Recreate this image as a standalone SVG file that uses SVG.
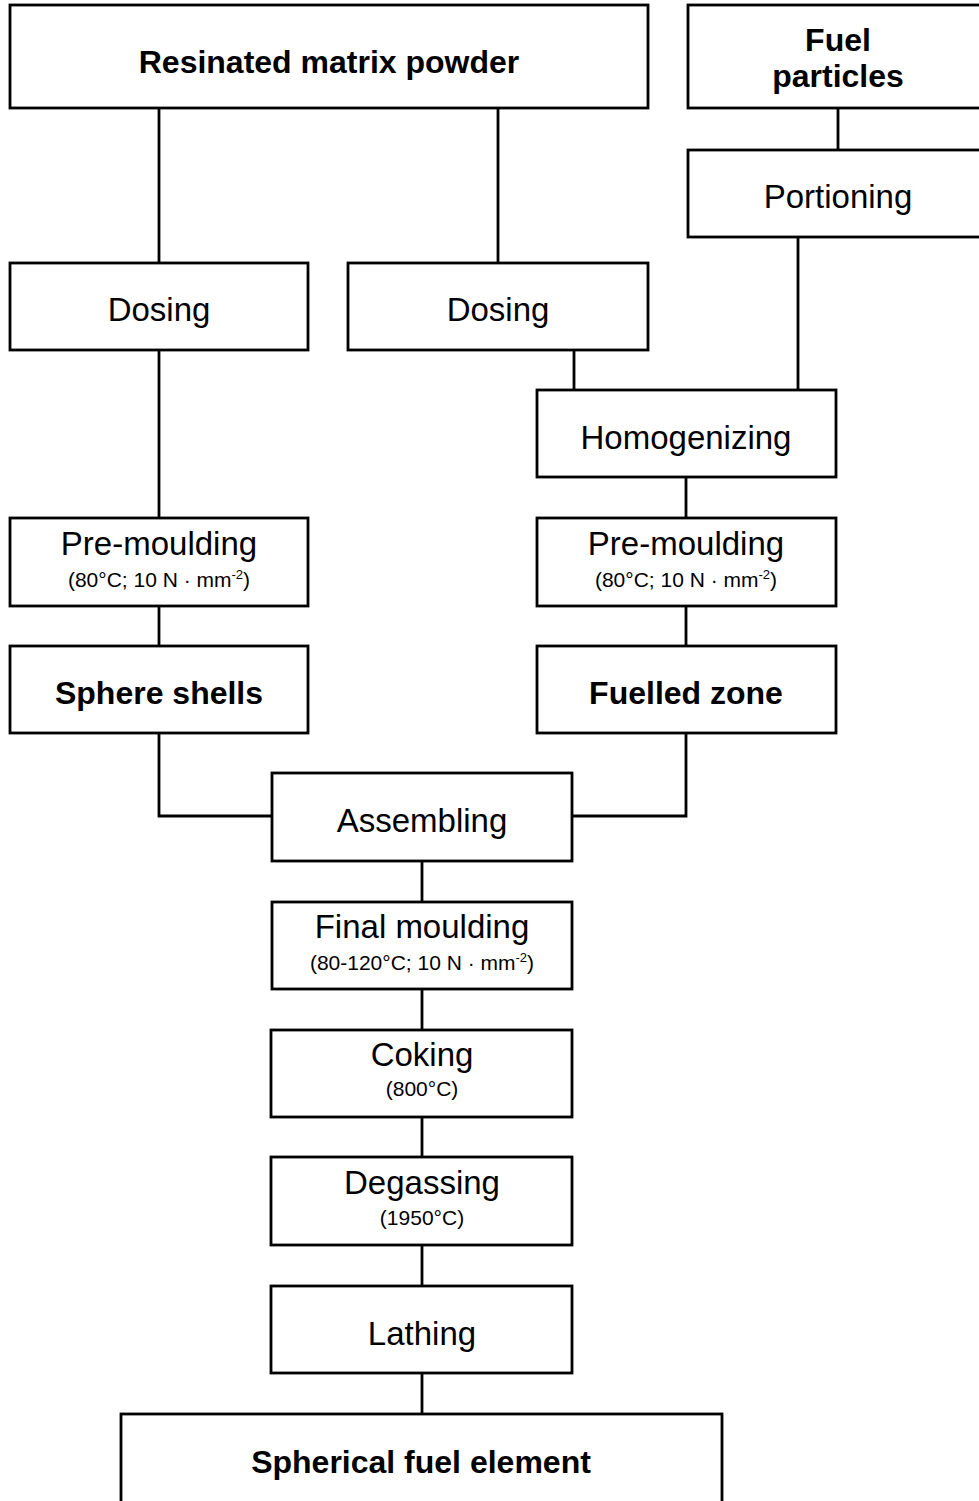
<svg xmlns="http://www.w3.org/2000/svg" width="979" height="1501" viewBox="0 0 979 1501">
<style>
.box{fill:#fff;stroke:#000;stroke-width:2.8}
.con{fill:none;stroke:#000;stroke-width:2.8}
.t{font-family:"Liberation Sans",Arial,sans-serif;font-size:33px;text-anchor:middle;fill:#000}
.b{font-weight:bold;font-size:32px}
.s{font-family:"Liberation Sans",Arial,sans-serif;font-size:21px;text-anchor:middle;fill:#000}
.sup{font-size:13px}
</style>
<rect width="979" height="1501" fill="#fff"/>
<g id="connectors">
<path class="con" d="M838 108V150"/>
<path class="con" d="M159 108V263"/>
<path class="con" d="M498 108V263"/>
<path class="con" d="M574 350V390"/>
<path class="con" d="M798 237V390"/>
<path class="con" d="M159 350V518"/>
<path class="con" d="M686 477V518"/>
<path class="con" d="M159 606V646"/>
<path class="con" d="M686 606V646"/>
<path class="con" d="M159 733V816H272"/>
<path class="con" d="M686 733V816H572"/>
<path class="con" d="M422 861V902"/>
<path class="con" d="M422 989V1030"/>
<path class="con" d="M422 1117V1157"/>
<path class="con" d="M422 1245V1286"/>
<path class="con" d="M422 1373V1414"/>
</g>
<g id="resinated"><rect class="box" x="10" y="5" width="638" height="103"/><text class="t b" x="329" y="73">Resinated matrix powder</text></g>
<g id="fuel"><rect class="box" x="688" y="5" width="310" height="103"/><text class="t b" x="838" y="51">Fuel</text><text class="t b" x="838" y="87">particles</text></g>
<g id="portioning"><rect class="box" x="688" y="150" width="310" height="87"/><text class="t" x="838" y="208">Portioning</text></g>
<g id="dosing1"><rect class="box" x="10" y="263" width="298" height="87"/><text class="t" x="159" y="321">Dosing</text></g>
<g id="dosing2"><rect class="box" x="348" y="263" width="300" height="87"/><text class="t" x="498" y="321">Dosing</text></g>
<g id="homogenizing"><rect class="box" x="537" y="390" width="299" height="87"/><text class="t" x="686" y="449">Homogenizing</text></g>
<g id="premould1"><rect class="box" x="10" y="518" width="298" height="88"/><text class="t" x="159" y="555">Pre-moulding</text><text class="s" x="159" y="587">(80°C; 10 N · mm<tspan class="sup" dy="-8">-2</tspan><tspan dy="8">)</tspan></text></g>
<g id="premould2"><rect class="box" x="537" y="518" width="299" height="88"/><text class="t" x="686" y="555">Pre-moulding</text><text class="s" x="686" y="587">(80°C; 10 N · mm<tspan class="sup" dy="-8">-2</tspan><tspan dy="8">)</tspan></text></g>
<g id="shells"><rect class="box" x="10" y="646" width="298" height="87"/><text class="t b" x="159" y="704">Sphere shells</text></g>
<g id="fuelled"><rect class="box" x="537" y="646" width="299" height="87"/><text class="t b" x="686" y="704">Fuelled zone</text></g>
<g id="assembling"><rect class="box" x="272" y="773" width="300" height="88"/><text class="t" x="422" y="832">Assembling</text></g>
<g id="finalmould"><rect class="box" x="272" y="902" width="300" height="87"/><text class="t" x="422" y="938">Final moulding</text><text class="s" x="422" y="970">(80-120°C; 10 N · mm<tspan class="sup" dy="-8">-2</tspan><tspan dy="8">)</tspan></text></g>
<g id="coking"><rect class="box" x="271" y="1030" width="301" height="87"/><text class="t" x="422" y="1066">Coking</text><text class="s" x="422" y="1096">(800°C)</text></g>
<g id="degassing"><rect class="box" x="271" y="1157" width="301" height="88"/><text class="t" x="422" y="1194">Degassing</text><text class="s" x="422" y="1225">(1950°C)</text></g>
<g id="lathing"><rect class="box" x="271" y="1286" width="301" height="87"/><text class="t" x="422" y="1345">Lathing</text></g>
<g id="spherical"><rect class="box" x="121" y="1414" width="601" height="100"/><text class="t b" x="421" y="1473">Spherical fuel element</text></g>
</svg>
